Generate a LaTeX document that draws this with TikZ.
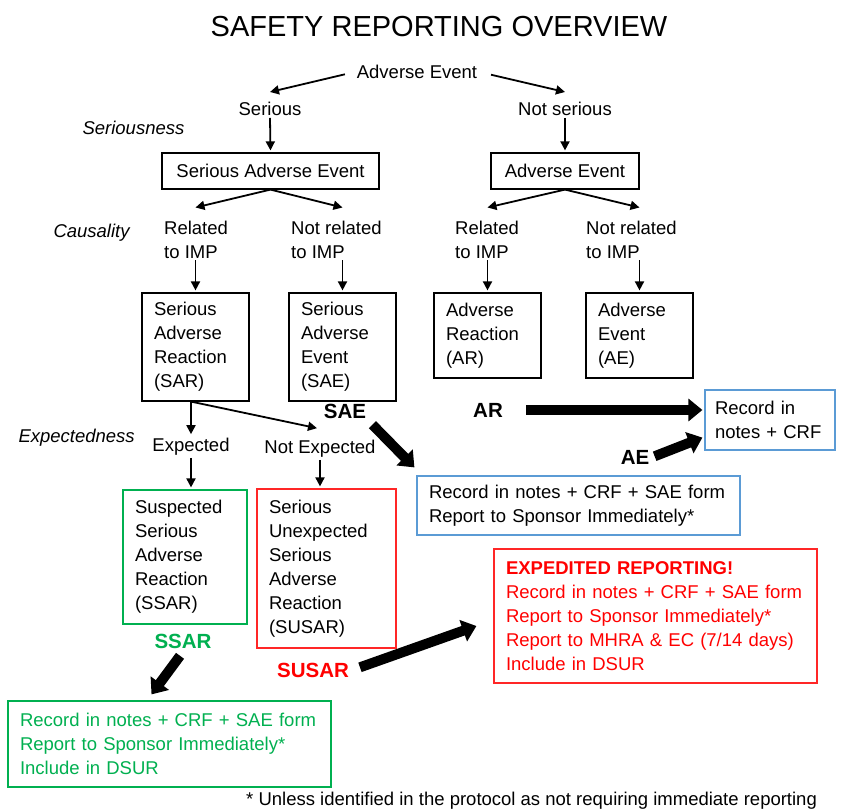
\documentclass[tikz,border=0pt]{standalone}
\usepackage{fontspec}
\setmainfont{Liberation Sans}
\usepackage{xcolor}
\usepackage{tikz}
\usetikzlibrary{arrows.meta}
\usetikzlibrary{calc}
\definecolor{sgreen}{HTML}{00B050}
\definecolor{sred}{HTML}{FF0000}
\definecolor{sblue}{HTML}{5B9BD5}

\begin{document}
\begin{tikzpicture}[x=1pt, y=-1pt,
	txt/.style={font=\fontsize{18.5}{24}\selectfont, inner sep=2pt},
	multi/.style={txt, align=left, anchor=west},
	box/.style={draw, line width=1.2pt, align=left, inner xsep=12pt, font=\fontsize{18.5}{24}\selectfont},
	tag/.style={font=\fontsize{18.5}{24}\selectfont\itshape, anchor=west},
	arr/.style={-{Triangle[width=9pt,length=9pt]}, line width=1.8pt},
	bigarr/.style={-{Triangle[width=22pt,length=14pt]}, line width=10pt},
	lbl/.style={font=\fontsize{20.5}{24}\selectfont\bfseries}]

	\fill[white] (0,0) rectangle (842,810);
	\useasboundingbox (0,0) rectangle (842,810);
	\clip (0,0) rectangle (842,810);

	\node[font=\fontsize{29}{34}\selectfont] (title) at (439,27) {SAFETY REPORTING OVERVIEW};

	% seriousness
	\node[txt] (ae) at (417,72) {Adverse Event};
	\node[txt] (ser) at (270,109) {Serious};
	\node[txt] (nser) at (565,109) {Not serious};
	\node[tag] at (79,128) {Seriousness};
	\node[box, align=center, minimum width=217pt, minimum height=36pt] (sae) at (270.5,171) {Serious Adverse Event};
	\node[box, align=center, minimum width=148pt, minimum height=36pt] (aeb) at (565,171) {Adverse Event};

	\draw[arr, shorten <=10pt] (ae.west) -- ($(ser.north)+(0,-8)$);
	\draw[arr, shorten <=12pt] (ae.east) -- ($(nser.north)+(0,-8)$);
	\draw[arr, shorten >=2pt] (ser.south) -- (sae.north);
	\draw[arr, shorten >=2pt] (nser.south) -- (aeb.north);

	% causality
	\node[tag] at (50,233) {Causality};
	\node[multi] (rel) at (162,239.5) {Related\\to IMP};
	\node[multi] (nrel) at (289,239.5) {Not related\\to IMP};
	\node[multi] (rel2) at (453,239.5) {Related\\to IMP};
	\node[multi] (nrel2) at (584,239.5) {Not related\\to IMP};

	\node[box, text width=83pt, minimum height=108pt] (sar) at (195.5,347) {Serious\\Adverse\\Reaction\\(SAR)};
	\node[box, text width=83pt, minimum height=108pt] (saeb) at (342.5,347) {Serious\\Adverse\\Event\\(SAE)};
	\node[box, text width=83pt, minimum height=85pt] (arb) at (487.5,335.5) {Adverse\\Reaction\\(AR)};
	\node[box, text width=83pt, minimum height=85pt] (aeb2) at (639.5,335.5) {Adverse\\Event\\(AE)};

	\draw[arr] (sae.south) -- ($(rel.north -| sar.north)+(0,-11)$);
	\draw[arr] (sae.south) -- ($(nrel.north -| saeb.north)+(0,-11)$);
	\draw[arr] (aeb.south) -- ($(rel2.north -| arb.north)+(0,-11)$);
	\draw[arr] (aeb.south) -- ($(nrel2.north -| aeb2.north)+(0,-11)$);
	\draw[arr, shorten >=2pt] (rel.south -| sar.north) -- (sar.north);
	\draw[arr, shorten >=2pt] (nrel.south -| saeb.north) -- (saeb.north);
	\draw[arr, shorten >=2pt] (rel2.south -| arb.north) -- (arb.north);
	\draw[arr, shorten >=2pt] (nrel2.south -| aeb2.north) -- (aeb2.north);

	% expectedness
	\node[tag] at (15,438) {Expectedness};
	\node[txt] (expd) at (191,447) {Expected};
	\node[txt] (nexpd) at (320,449) {Not Expected};
	\node[box, draw=sgreen, text width=100pt, minimum height=134pt] (ssar) at (185,557) {Suspected\\Serious\\Adverse\\Reaction\\(SSAR)};
	\node[box, draw=sred!85, text width=115pt, minimum height=159pt] (susar) at (326.5,568.5) {Serious\\Unexpected\\Serious\\Adverse\\Reaction\\(SUSAR)};

	\draw[arr] (sar.south -| expd.north) -- ($(expd.north)+(0,-2)$);
	\draw[arr] (sar.south -| expd.north) -- ($(nexpd.north)+(-3,-10)$);
	\draw[arr, shorten >=2pt] (expd.south) -- (expd.south |- ssar.north);
	\draw[arr, shorten >=2pt] (nexpd.south) -- (nexpd.south |- susar.north);

	% reporting
	\node[box, draw=sblue, text width=110pt, inner xsep=10pt, minimum height=60pt] (recae) at (770,420) {Record in\\notes + CRF};
	\node[box, draw=sblue, text width=299pt, inner xsep=12pt, minimum height=59pt] (recsae) at (578.5,505.5) {Record in notes + CRF + SAE form\\Report to Sponsor Immediately*};
	\node[box, draw=sred!85, text=sred, text width=299pt, inner xsep=12pt, minimum height=134pt] (recred) at (655.5,616) {\textbf{EXPEDITED REPORTING!}\\Record in notes + CRF + SAE form\\Report to Sponsor Immediately*\\Report to MHRA \& EC (7/14 days)\\Include in DSUR};
	\node[box, draw=sgreen, text=sgreen, text width=299pt, minimum height=86pt] (recgreen) at (169.5,744) {Record in notes + CRF + SAE form\\Report to Sponsor Immediately*\\Include in DSUR};

	\node[lbl] (lsae) at (345,411) {SAE};
	\node[lbl] (lar) at (488,410) {AR};
	\node[lbl] (lae) at (635,457) {AE};
	\node[lbl, text=sgreen] (lssar) at (183,641) {SSAR};
	\node[lbl, text=sred] (lsusar) at (313,670) {SUSAR};

	\draw[bigarr, shorten <=4pt] (lsae.south east) -- ($(recsae.north west)+(-2,-8)$);
	\draw[bigarr, shorten <=20pt, shorten >=2pt] (lar.east) -- (lar.east -| recae.west);
	\draw[bigarr, shorten <=2pt] (lae.east) -- ($(recae.south west)+(-2,-13)$);
	\draw[bigarr, shorten <=5pt] (lssar.south) -- ($(recgreen.north)+(-18,-6)$);
	\draw[bigarr, shorten <=8pt] (lsusar.east) -- ($(recred.west)+(-17,10)$);

	\node[txt, anchor=west] (foot) at (244,801) {* Unless identified in the protocol as not requiring immediate reporting};

\end{tikzpicture}
\end{document}
